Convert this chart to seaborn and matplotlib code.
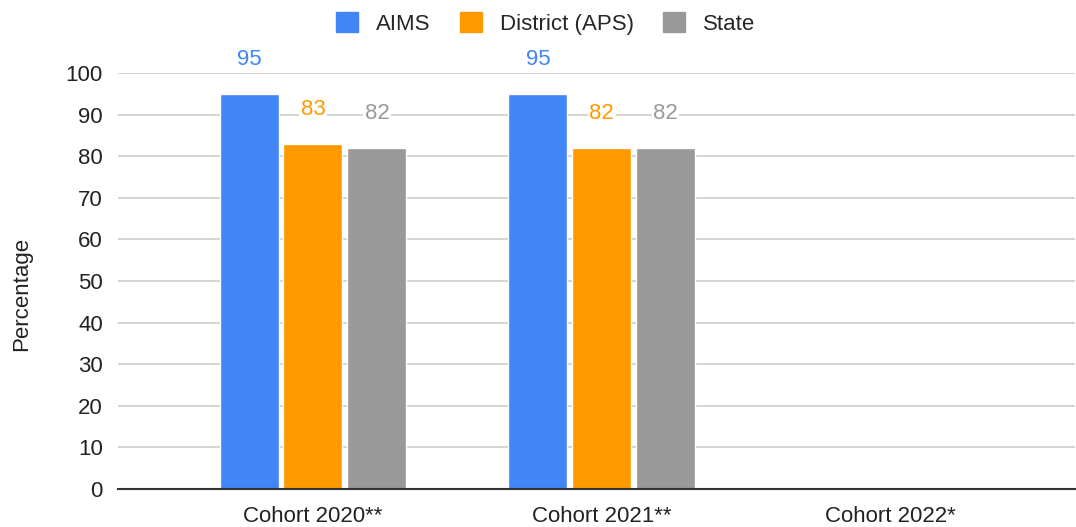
import numpy as np
import pandas as pd
import matplotlib
matplotlib.use('Agg')
import matplotlib.pyplot as plt
import seaborn as sns

# datos
cohorts = ["Cohort 2020**", "Cohort 2021**", "Cohort 2022*"]
series = ["AIMS", "District (APS)", "State"]
aims = [95, 95, np.nan]
district = [83, 82, np.nan]
state = [82, 82, np.nan]
colors = ["#4285F4", "#FF9900", "#999999"]

df = pd.DataFrame({
    "cohort": cohorts * 3,
    "serie": [s for s in series for _ in cohorts],
    "value": aims + district + state,
})

sns.set_style("white")
plt.rcParams["font.family"] = ["Liberation Sans", "DejaVu Sans"]
FS = 16

fig = plt.figure(figsize=(10.76, 5.27), dpi=100)
ax = fig.add_axes([0.1097, 0.0721, 0.889, 0.7894])

sns.barplot(data=df.dropna(), x="cohort", y="value", hue="serie",
            order=cohorts, hue_order=series, palette=colors,
            width=0.664, gap=0.077, saturation=1, ax=ax, legend=False)

for cont, col in zip(ax.containers, colors):
    ax.bar_label(cont, fmt="%d", padding=17, color=col, fontsize=FS,
                 clip_on=False,
                 bbox=dict(facecolor="white", edgecolor="none", pad=1))

ax.set_ylim(0, 100)
ax.set_xlim(-0.675, 2.637)
ax.set_yticks(range(0, 101, 10))
ax.yaxis.grid(True, color="#cccccc", linewidth=1.2)
ax.set_axisbelow(True)
for s in ["left", "right", "top"]:
    ax.spines[s].set_visible(False)
ax.spines["bottom"].set_color("#333333")
ax.spines["bottom"].set_linewidth(1.5)
ax.tick_params(axis="both", length=0, labelsize=FS, colors="#222222")
ax.tick_params(axis="y", pad=11)
ax.tick_params(axis="x", pad=12)
ax.set_xlabel("")
ax.set_ylabel("Percentage", fontsize=FS, color="#222222")
ax.yaxis.set_label_coords(-0.09, 0.47)

handles = [plt.Rectangle((0, 0), 1, 1, color=c) for c in colors]
fig.legend(handles, series, loc="center", bbox_to_anchor=(0.507, 0.955),
           ncol=3, frameon=False, fontsize=FS, handlelength=1.0,
           handleheight=1.0, handletextpad=0.8, columnspacing=1.3)

plt.savefig("out.png", dpi=100)
plt.close()
